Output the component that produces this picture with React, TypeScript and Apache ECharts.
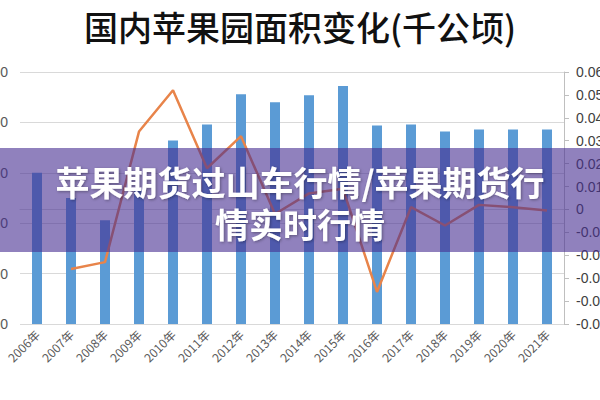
import React, { useEffect, useRef } from "react";
import * as echarts from "echarts";

const years = ["2006年", "2007年", "2008年", "2009年", "2010年", "2011年", "2012年", "2013年", "2014年", "2015年", "2016年", "2017年", "2018年", "2019年", "2020年", "2021年"];
const area = [2100, 2050, 2006, 2066, 2164, 2196, 2256, 2240, 2254, 2272, 2194, 2196, 2182, 2186, 2186, 2186];
const growth = [null, -0.026, -0.023, 0.034, 0.052, 0.018, 0.032, -0.002, 0.007, 0.009, -0.036, 0.001, -0.007, 0.002, 0.001, -0.0005];
const titleText = "国内苹果园面积变化(千公顷)";
const bannerLines = ["苹果期货过山车行情/苹果期货行", "情实时行情"];

export default function App() {
  const ref = useRef<HTMLDivElement>(null);
  useEffect(() => {
    if (!ref.current) return;
    const chart = echarts.init(ref.current, null, { renderer: "svg" });
    chart.setOption({
      animation: false,
      backgroundColor: "#ffffff",
      title: {
        text: titleText,
        left: "center",
        top: 4,
        textStyle: {
          fontFamily: "Noto Sans CJK SC",
          fontSize: 34,
          fontWeight: 500,
          color: "#111111",
        },
      },
      grid: { left: 20, right: 36, top: 72, bottom: 76, outerBoundsMode: "none", containLabel: false },
      xAxis: {
        type: "category",
        data: years,
        boundaryGap: true,
        axisLine: { lineStyle: { color: "#d9d9d9" } },
        axisTick: { show: false },
        axisLabel: {
          rotate: 45,
          interval: 0,
          color: "#595959",
          fontSize: 12,
          fontFamily: "Noto Sans CJK SC",
          margin: 8,
        },
      },
      yAxis: [
        {
          type: "value",
          min: 1800,
          max: 2300,
          interval: 100,
          axisLine: { show: false },
          axisTick: { show: false },
          splitLine: { lineStyle: { color: "#d9d9d9" } },
          axisLabel: { color: "#595959", fontSize: 14, margin: 12, fontFamily: "Liberation Sans" },
        },
        {
          type: "value",
          min: -0.05,
          max: 0.06,
          interval: 0.01,
          position: "right",
          axisLine: { show: true, lineStyle: { color: "#bfbfbf" } },
          axisTick: { show: true, length: 5, lineStyle: { color: "#bfbfbf" } },
          splitLine: { show: false },
          axisLabel: {
            color: "#404040",
            fontSize: 14,
            margin: 12,
            fontFamily: "Liberation Sans",
            formatter: (v: number) => (Math.abs(v) < 1e-9 ? "0" : v.toFixed(2)),
          },
        },
      ],
      series: [
        {
          type: "bar",
          data: area,
          barWidth: 10,
          itemStyle: { color: "#5B9BD5" },
        },
        {
          type: "line",
          yAxisIndex: 1,
          data: growth,
          showSymbol: false,
          symbol: "none",
          lineStyle: { color: "#E8844A", width: 2.5 },
        },
      ],
      graphic: [
        {
          type: "rect",
          z: 100,
          shape: { x: 0, y: 148, width: 600, height: 104 },
          style: { fill: "rgba(70,45,145,0.6)" },
        },
        {
          type: "text",
          z: 101,
          x: 300,
          y: 202,
          style: {
            text: bannerLines.join("\n"),
            fill: "#ffffff",
            fontSize: 34,
            lineHeight: 42,
            fontWeight: "bold",
            fontFamily: "Noto Sans CJK SC",
            align: "center",
            verticalAlign: "middle",
            textShadowColor: "rgba(0,0,0,0.35)",
            textShadowBlur: 3,
            textShadowOffsetX: 1,
            textShadowOffsetY: 1,
          },
        },
      ],
    });
    return () => chart.dispose();
  }, []);
  return <div ref={ref} style={{ width: 600, height: 400, position: "absolute", left: 0, top: 0 }} />;
}
